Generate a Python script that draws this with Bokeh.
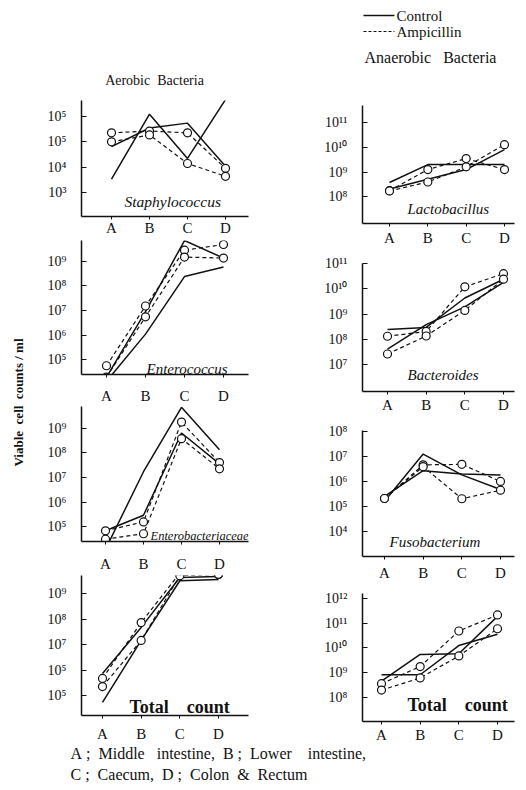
import math
import numpy as np
from bokeh.plotting import figure
from bokeh.layouts import row, column
from bokeh.models import Range1d, FixedTicker, Label
from bokeh.embed import file_html
from bokeh.resources import INLINE
from bokeh.core.properties import value

# ---------------- data (log10 viable cell counts / ml) ----------------
sites = ["A", "B", "C", "D"]

staph_ctrl_1 = [3.54, 6.08, 4.35, 6.65]
staph_ctrl_2 = [4.81, 5.54, 5.73, 4.04]
staph_amp_1 = [5.35, 5.42, 5.35, 3.96]
staph_amp_2 = [5.00, 5.27, 4.15, 3.65]

entc_ctrl_1 = [4.13, 6.04, 8.37, 8.76]
entc_ctrl_2 = [4.30, 6.95, 9.83, 9.12]
entc_amp_1 = [4.76, 7.18, 9.44, 9.67]
entc_amp_2 = [4.30, 6.74, 9.16, 9.12]

entb_ctrl_1 = [4.09, 7.23, 9.84, 8.12]
entb_ctrl_2 = [4.84, 5.47, 8.80, 7.55]
entb_amp_1 = [4.84, 5.20, 9.24, 7.60]
entb_amp_2 = [4.50, 4.72, 8.57, 7.35]

aer_tot_ctrl_1 = [4.73, 7.16, 9.50, 9.55]
aer_tot_ctrl_2 = [5.86, 7.67, 9.63, 9.67]
aer_tot_amp_1 = [5.67, 7.86, 9.80, 9.75]
aer_tot_amp_2 = [5.35, 7.16, 9.70, 9.75]

lacto_ctrl_1 = [8.58, 9.30, 9.30, 9.30]
lacto_ctrl_2 = [8.32, 8.71, 9.10, 9.90]
lacto_amp_1 = [8.25, 9.10, 9.54, 9.10]
lacto_amp_2 = [8.24, 8.60, 9.21, 10.10]

bact_ctrl_1 = [8.40, 8.48, 9.64, 10.38]
bact_ctrl_2 = [7.62, 8.59, 9.29, 10.26]
bact_amp_1 = [8.13, 8.32, 10.08, 10.60]
bact_amp_2 = [7.43, 8.14, 9.15, 10.38]

fuso_ctrl_1 = [5.22, 7.10, 6.27, 5.69]
fuso_ctrl_2 = [5.41, 6.44, 6.31, 6.27]
fuso_amp_1 = [5.33, 6.67, 6.69, 6.01]
fuso_amp_2 = [5.33, 6.60, 5.32, 5.66]

ana_tot_ctrl_1 = [8.91, 8.91, 10.09, 10.55]
ana_tot_ctrl_2 = [8.65, 9.73, 9.76, 11.27]
ana_tot_amp_1 = [8.55, 9.24, 10.68, 11.33]
ana_tot_amp_2 = [8.29, 8.78, 9.67, 10.77]

SUP = str.maketrans("0123456789", "⁰¹²³⁴⁵⁶⁷⁸⁹")


def tl(n):
    return "10" + str(n).translate(SUP)


staph_ticks = [3, 4, 5, 6]
staph_labels = [tl(3), tl(4), tl(5), tl(5)]
entc_ticks = [5, 6, 7, 8, 9]
entc_labels = [tl(n) for n in entc_ticks]
entb_ticks = [5, 6, 7, 8, 9]
entb_labels = [tl(n) for n in entb_ticks]
aer_tot_ticks = [5, 6, 7, 8, 9]
aer_tot_labels = [tl(5), tl(5), tl(7), tl(8), tl(9)]
lacto_ticks = [8, 9, 10, 11]
lacto_labels = [tl(n) for n in lacto_ticks]
bact_ticks = [7, 8, 9, 10, 11]
bact_labels = [tl(n) for n in bact_ticks]
fuso_ticks = [4, 5, 6, 7, 8]
fuso_labels = [tl(n) for n in fuso_ticks]
ana_tot_ticks = [8, 9, 10, 11, 12]
ana_tot_labels = [tl(n) for n in ana_tot_ticks]

NB = "\u00a0"  # non-breaking space keeps the wide word spacing of the print
TOTAL = "Total" + NB * 3 + " count"

SERIF = "Liberation Serif"
INK = "#111111"

# columns (page px) and shared frame edges inside each column
LEFT_X0, LEFT_W, LEFT_L, LEFT_R = 38, 232, 81, 248
RIGHT_X0, RIGHT_W, RIGHT_L, RIGHT_R = 270, 256, 362, 514


def blank(w, h, xr, yr, bl=0, br=0):
    p = figure(width=w, height=h, x_range=Range1d(*xr), y_range=Range1d(*yr),
               x_axis_type=None, y_axis_type=None, output_backend="svg",
               toolbar_location=None, title_location=None,
               min_border_left=bl, min_border_right=br, min_border_top=0, min_border_bottom=0)
    p.grid.visible = False
    p.outline_line_color = None
    return p


def panel(col, fig_top, fig_bot, T, B, catA, catD, ref, series,
          ticks, labels, standoff, name, name_pos, name_size, name_style):
    x0, w, L, R = col
    n_hi, y_hi, n_lo, y_lo = ref
    k = (y_lo - y_hi) / (n_hi - n_lo)
    ys = n_lo - (B - y_lo) / k
    ye = n_hi + (y_hi - T) / k
    sx = (catD - catA) / 3.0
    xs = (L - catA) / sx
    xe = 3 + (R - catD) / sx
    p = figure(width=w, height=fig_bot - fig_top, y_axis_type="log",
               x_range=Range1d(xs, xe), y_range=Range1d(10 ** ys, 10 ** ye),
               output_backend="svg", toolbar_location=None, title_location=None,
               min_border_left=L - x0, min_border_right=x0 + w - R,
               min_border_top=T - fig_top, min_border_bottom=fig_bot - B)
    p.grid.visible = False
    p.outline_line_color = None
    xpos = list(range(len(sites)))
    for vals, dashed in series:
        y = [10 ** v for v in vals]
        if dashed:
            p.line(xpos, y, line_color=INK, line_width=1.2, line_dash="4 3")
            p.scatter(xpos, y, marker="circle", size=8, fill_color="white",
                      line_color=INK, line_width=1.2)
        else:
            p.line(xpos, y, line_color=INK, line_width=1.5)
    xa = p.xaxis[0]
    xa.ticker = FixedTicker(ticks=xpos)
    xa.major_label_overrides = {i: s for i, s in enumerate(sites)}
    xa.major_tick_in = 0
    xa.major_tick_out = 3
    xa.minor_tick_in = 0
    xa.minor_tick_out = 0
    xa.major_label_standoff = standoff
    xa.axis_line_width = 1.5
    xa.axis_line_color = INK
    xa.major_tick_line_color = INK
    xa.major_label_text_font = SERIF
    xa.major_label_text_font_size = "15px"
    xa.major_label_text_color = INK
    ya = p.yaxis[0]
    ya.ticker = FixedTicker(ticks=[10.0 ** n for n in ticks])
    ya.major_label_overrides = {10.0 ** n: s for n, s in zip(ticks, labels)}
    ya.major_tick_in = 5
    ya.major_tick_out = 0
    ya.minor_tick_in = 0
    ya.minor_tick_out = 0
    ya.major_label_standoff = 15
    ya.axis_line_width = 1.5
    ya.axis_line_color = INK
    ya.major_tick_line_color = INK
    ya.major_label_text_font = SERIF
    ya.major_label_text_font_size = "14px"
    ya.major_label_text_color = INK
    px, py = name_pos
    lx = (px - catA) / sx
    ly = 10 ** (n_lo - (py - y_lo) / k)
    p.add_layout(Label(x=lx, y=ly, text=name, text_font=SERIF,
                       text_font_size=name_size, text_font_style=name_style,
                       text_color=INK, text_baseline="middle", text_align="left"))
    return p


def S(a, b, c, d):
    return [(a, False), (b, False), (c, True), (d, True)]


LC = (LEFT_X0, LEFT_W, LEFT_L, LEFT_R)
RC = (RIGHT_X0, RIGHT_W, RIGHT_L, RIGHT_R)

p1 = panel(LC, 88, 238, 100, 218, 111, 225, (6, 116, 3, 194),
           S(staph_ctrl_1, staph_ctrl_2, staph_amp_1, staph_amp_2),
           staph_ticks, staph_labels, 0, "Staphylococcus", (124, 203), "15.5px", "italic")
p2 = panel(LC, 238, 406, 240, 377, 106, 223, (9, 261, 5, 362),
           S(entc_ctrl_1, entc_ctrl_2, entc_amp_1, entc_amp_2),
           entc_ticks, entc_labels, 10, "Enterococcus", (146, 371), "15px", "italic")
p3 = panel(LC, 406, 574, 406, 544, 105, 219, (9, 428, 5, 529),
           S(entb_ctrl_1, entb_ctrl_2, entb_amp_1, entb_amp_2),
           entb_ticks, entb_labels, 11, "Enterobacteriaceae", (150, 538), "12.5px", "italic")
p4 = panel(LC, 574, 745, 575, 715, 102, 218, (9, 593, 5, 695),
           S(aer_tot_ctrl_1, aer_tot_ctrl_2, aer_tot_amp_1, aer_tot_amp_2),
           aer_tot_ticks, aer_tot_labels, 7, TOTAL, (129, 706), "18px", "bold")

p5 = panel(RC, 95, 248, 105, 225, 389, 504, (11, 122, 8, 198),
           S(lacto_ctrl_1, lacto_ctrl_2, lacto_amp_1, lacto_amp_2),
           lacto_ticks, lacto_labels, 3, "Lactobacillus", (407, 210), "15px", "italic")
p6 = panel(RC, 248, 415, 263, 393, 387, 503, (11, 263, 7, 366),
           S(bact_ctrl_1, bact_ctrl_2, bact_amp_1, bact_amp_2),
           bact_ticks, bact_labels, 2, "Bacteroides", (407, 376), "15px", "italic")
p7 = panel(RC, 415, 583, 430, 558, 384, 500, (8, 431, 4, 533),
           S(fuso_ctrl_1, fuso_ctrl_2, fuso_amp_1, fuso_amp_2),
           fuso_ticks, fuso_labels, 5, "Fusobacterium", (389, 543), "15px", "italic")
p8 = panel(RC, 583, 745, 593, 725, 381, 497, (12, 598, 8, 700),
           S(ana_tot_ctrl_1, ana_tot_ctrl_2, ana_tot_amp_1, ana_tot_amp_2),
           ana_tot_ticks, ana_tot_labels, 2, TOTAL, (407, 708), "18px", "bold")

# ---------------- headers, y label, footer ----------------
hl = blank(LEFT_W, 88, (LEFT_L, LEFT_R), (88, 0),
           bl=LEFT_L - LEFT_X0, br=LEFT_X0 + LEFT_W - LEFT_R)
hl.text(x=[154], y=[80], text=["Aerobic" + NB + " Bacteria"], text_font=value(SERIF),
        text_font_size="14px", text_align="center", text_baseline="middle", text_color=INK)

hr = blank(RIGHT_W, 95, (RIGHT_L, RIGHT_R), (95, 0),
           bl=RIGHT_L - RIGHT_X0, br=RIGHT_X0 + RIGHT_W - RIGHT_R)
hr.text(x=[430], y=[57], text=["Anaerobic" + NB * 2 + " Bacteria"], text_font=value(SERIF),
        text_font_size="16px", text_align="center", text_baseline="middle", text_color=INK)
# legend keys: Control (solid), Ampicillin (dashed)
legend_labels = ["Control", "Ampicillin"]
hr.segment(x0=[363], y0=[15], x1=[394], y1=[15], line_color=INK, line_width=1.5)
hr.segment(x0=[363], y0=[31], x1=[394], y1=[31], line_color=INK, line_width=1.2,
           line_dash="3 2")
hr.text(x=[396, 396], y=[15, 31], text=legend_labels, text_font=value(SERIF),
        text_font_size="15px", text_align="left", text_baseline="middle", text_color=INK)

yl = blank(LEFT_X0, 745, (0, LEFT_X0), (745, 0))
yl.text(x=[18], y=[402], text=["Viable" + NB + " cell" + NB + " counts / ml"], angle=math.pi / 2,
        text_font=value(SERIF), text_font_size="13px", text_font_style="bold",
        text_align="center", text_baseline="middle", text_color=INK)

ft = blank(526, 45, (0, 526), (790, 745))
footer_lines = [
    "A" + NB + "; " + NB + "Middle" + NB * 2 + " intestine," + NB + " B" + NB + "; " + NB
    + "Lower" + NB * 3 + " intestine,",
    "C ;" + NB + " Caecum," + NB + " D ;" + NB + " Colon" + NB + " &" + NB + " Rectum",
]
ft.text(x=[70, 70], y=[753, 774], text=footer_lines,
        text_font=value(SERIF), text_font_size="16px", text_align="left",
        text_baseline="middle", text_color=INK)

layout = column(row(yl, column(hl, p1, p2, p3, p4), column(hr, p5, p6, p7, p8)), ft)

open("out.html", "w").write(file_html(layout, INLINE))
